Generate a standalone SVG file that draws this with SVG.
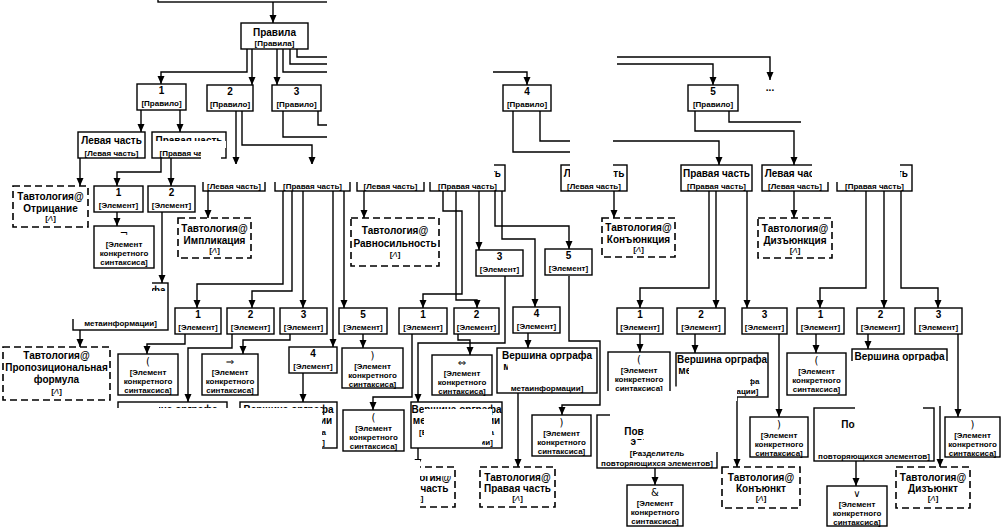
<svg xmlns="http://www.w3.org/2000/svg" width="1006" height="528" viewBox="0 0 1006 528">
<style>
.b{fill:#fff;stroke:#000;stroke-width:1.4}
.d{fill:#fff;stroke:#000;stroke-width:1.6;stroke-dasharray:7 4}
text{font-family:"Liberation Sans",Arial,"DejaVu Sans",sans-serif;text-anchor:middle;fill:#000;font-weight:bold}
.l{font-size:10px}
.s{font-size:8px}
.y{font-size:10px;font-weight:normal;font-family:"DejaVu Sans","Liberation Sans",sans-serif}
.c{fill:none;stroke:#000;stroke-width:1.4;marker-end:url(#a)}
.m{fill:#fff}
</style>
<defs><marker id="a" markerUnits="userSpaceOnUse" markerWidth="8" markerHeight="8" refX="8" refY="3.5" orient="auto"><path d="M0,0L8,3.5L0,7z"/></marker></defs>
<rect width="1006" height="528" fill="#fff"/>
<g id="connectors">
<path class="c" d="M273,2V23"/>
<path class="c" d="M247,49V72H161V84"/>
<path class="c" d="M252,49V85"/>
<path class="c" d="M277,49V85"/>
<path class="c" d="M283,49V72H527V85"/>
<path class="c" d="M290,49V64H713V85"/>
<path class="c" d="M297,49V57H770V80"/>
<path class="c" d="M141,110V132"/>
<path class="c" d="M180,110V132"/>
<path class="c" d="M80,158V186"/>
<path class="c" d="M161,158V172H117V186"/>
<path class="c" d="M171,158V186"/>
<path class="c" d="M117,212V226"/>
<path class="c" d="M162,212V283"/>
<path class="c" d="M80,330V347"/>
<path class="c" d="M236,111V165"/>
<path class="c" d="M242,111V145H312V165"/>
<path class="c" d="M208,191V218"/>
<path class="c" d="M283,191V284H197V308"/>
<path class="c" d="M292,191V291H252V308"/>
<path class="c" d="M303,191V308"/>
<path class="c" d="M333,191V347"/>
<path class="c" d="M344,191V308"/>
<path class="c" d="M185,334V344H147V354"/>
<path class="c" d="M232,334V348H188V402"/>
<path class="c" d="M290,334V340H243V354"/>
<path class="c" d="M303,373V402"/>
<path class="c" d="M363,334V348"/>
<path class="c" d="M283,111V137H390V165"/>
<path class="c" d="M318,111V125H467V165"/>
<path class="c" d="M364,191V218"/>
<path class="c" d="M443,191V211H462V294H423V308"/>
<path class="c" d="M456,191V300H477V308"/>
<path class="c" d="M479,191V250"/>
<path class="c" d="M495,191V226H569V249"/>
<path class="c" d="M502,191V239H535V307"/>
<path class="c" d="M412,334V397H373V410"/>
<path class="c" d="M458,334V340H470V355"/>
<path class="c" d="M505,276V343H418V402"/>
<path class="c" d="M528,333V348"/>
<path class="c" d="M569,276V341H600V405H562V415"/>
<path class="c" d="M418,448V467"/>
<path class="c" d="M518,393V467"/>
<path class="c" d="M513,111V152H590V165"/>
<path class="c" d="M540,111V141H719V165"/>
<path class="c" d="M614,191V218"/>
<path class="c" d="M709,191V288H640V308"/>
<path class="c" d="M716,191V308"/>
<path class="c" d="M747,191V308"/>
<path class="c" d="M640,334V352"/>
<path class="c" d="M695,334V353"/>
<path class="c" d="M779,334V417"/>
<path class="c" d="M737,397V467"/>
<path class="c" d="M655,468V485"/>
<path class="c" d="M695,111V131H794V165"/>
<path class="c" d="M729,111V122H875V165"/>
<path class="c" d="M794,191V218"/>
<path class="c" d="M866,191V288H820V308"/>
<path class="c" d="M884,191V308"/>
<path class="c" d="M901,191V288H938V308"/>
<path class="c" d="M816,334V353"/>
<path class="c" d="M868,334V349"/>
<path class="c" d="M958,334V417"/>
<path class="c" d="M940,396V467"/>
<path class="c" d="M856,461V486"/>
</g>
<g id="n-top"><rect class="b" x="158" y="-30" width="182" height="32"/></g>
<g id="n-pravila"><rect class="b" x="241" y="23" width="67" height="26"/><text class="l" x="274.5" y="36">Правила</text><text class="s" x="274.5" y="46">[Правила]</text></g>
<g id="n-r1"><rect class="b" x="137" y="84" width="49" height="26"/><text class="l" x="161.5" y="94">1</text><text class="s" x="161.5" y="106">[Правило]</text></g>
<g id="n-r2"><rect class="b" x="207" y="85" width="46" height="26"/><text class="l" x="230" y="95">2</text><text class="s" x="230" y="107">[Правило]</text></g>
<g id="n-r3"><rect class="b" x="272" y="85" width="49" height="26"/><text class="l" x="296.5" y="95">3</text><text class="s" x="296.5" y="107">[Правило]</text></g>
<g id="n-r4"><rect class="b" x="503" y="85" width="48" height="26"/><text class="l" x="527" y="95">4</text><text class="s" x="527" y="107">[Правило]</text></g>
<g id="n-r5"><rect class="b" x="688" y="85" width="50" height="26"/><text class="l" x="713" y="95">5</text><text class="s" x="713" y="107">[Правило]</text></g>
<g id="n-more"><text class="l" x="770" y="91">...</text></g>
<g id="n-l1"><rect class="b" x="78" y="132" width="67" height="26"/><text class="l" x="111.5" y="143.5">Левая часть</text><text class="s" x="111.5" y="155.5">[Левая часть]</text></g>
<g id="n-p1"><rect class="b" x="152" y="132" width="74" height="26"/><text class="l" x="189" y="143.5">Правая часть</text><text class="s" x="189" y="155.5">[Правая часть]</text></g>
<g id="n-l2"><rect class="b" x="203" y="165" width="62" height="26"/><text class="l" x="234" y="176.5">Левая часть</text><text class="s" x="234" y="188.5">[Левая часть]</text></g>
<g id="n-p2"><rect class="b" x="275" y="165" width="75" height="26"/><text class="l" x="312.5" y="176.5">Правая часть</text><text class="s" x="312.5" y="188.5">[Правая часть]</text></g>
<g id="n-l3"><rect class="b" x="357" y="165" width="67" height="26"/><text class="l" x="390.5" y="176.5">Левая часть</text><text class="s" x="390.5" y="188.5">[Левая часть]</text></g>
<g id="n-p3"><rect class="b" x="430" y="165" width="75" height="26"/><text class="l" x="467.5" y="176.5">Правая часть</text><text class="s" x="467.5" y="188.5">[Правая часть]</text></g>
<g id="n-l4"><rect class="b" x="561" y="165" width="66" height="26"/><text class="l" x="594" y="176.5">Левая часть</text><text class="s" x="594" y="188.5">[Левая часть]</text></g>
<g id="n-p4"><rect class="b" x="681" y="165" width="71" height="26"/><text class="l" x="716.5" y="176.5">Правая часть</text><text class="s" x="716.5" y="188.5">[Правая часть]</text></g>
<g id="n-l5"><rect class="b" x="762" y="165" width="66" height="26"/><text class="l" x="795" y="176.5">Левая часть</text><text class="s" x="795" y="188.5">[Левая часть]</text></g>
<g id="n-p5"><rect class="b" x="837" y="165" width="75" height="26"/><text class="l" x="874.5" y="176.5">Правая часть</text><text class="s" x="874.5" y="188.5">[Правая часть]</text></g>
<g id="n-t-otr"><rect class="d" x="13" y="186" width="75" height="41"/><text class="l" x="50.5" y="200">Тавтология@</text><text class="l" x="50.5" y="212">Отрицание</text><text class="s" x="50.5" y="221">[<tspan font-style="italic" font-weight="normal">Λ</tspan>]</text></g>
<g id="n-t-imp"><rect class="d" x="178" y="218" width="73" height="40"/><text class="l" x="214.5" y="232">Тавтология@</text><text class="l" x="214.5" y="243.5">Импликация</text><text class="s" x="214.5" y="253">[<tspan font-style="italic" font-weight="normal">Λ</tspan>]</text></g>
<g id="n-t-ravn"><rect class="d" x="351" y="218" width="88" height="48"/><text class="l" x="395" y="234">Тавтология@</text><text class="l" x="395" y="247">Равносильность</text><text class="s" x="395" y="257">[<tspan font-style="italic" font-weight="normal">Λ</tspan>]</text></g>
<g id="n-t-konj"><rect class="d" x="602" y="218" width="73" height="39"/><text class="l" x="638.5" y="231">Тавтология@</text><text class="l" x="638.5" y="242.5">Конъюнкция</text><text class="s" x="638.5" y="252">[<tspan font-style="italic" font-weight="normal">Λ</tspan>]</text></g>
<g id="n-t-dizj"><rect class="d" x="758" y="218" width="74" height="40"/><text class="l" x="795" y="232">Тавтология@</text><text class="l" x="795" y="243.5">Дизъюнкция</text><text class="s" x="795" y="253">[<tspan font-style="italic" font-weight="normal">Λ</tspan>]</text></g>
<g id="n-t-prop"><rect class="d" x="3" y="347" width="107" height="53"/><text class="l" x="56.5" y="359">Тавтология@</text><text class="l" x="56.5" y="371">Пропозициональная</text><text class="l" x="56.5" y="383">формула</text><text class="s" x="56.5" y="394">[<tspan font-style="italic" font-weight="normal">Λ</tspan>]</text></g>
<g id="n-t-lev"><rect class="d" x="381" y="467" width="74" height="40"/><text class="l" x="418" y="481">Тавтология@</text><text class="l" x="418" y="492">Левая часть</text><text class="s" x="418" y="501">[<tspan font-style="italic" font-weight="normal">Λ</tspan>]</text></g>
<g id="n-t-prav"><rect class="d" x="480" y="467" width="75" height="40"/><text class="l" x="517.5" y="481">Тавтология@</text><text class="l" x="517.5" y="492">Правая часть</text><text class="s" x="517.5" y="501">[<tspan font-style="italic" font-weight="normal">Λ</tspan>]</text></g>
<g id="n-t-konjt"><rect class="d" x="722" y="467" width="78" height="41"/><text class="l" x="761" y="481">Тавтология@</text><text class="l" x="761" y="492">Конъюнкт</text><text class="s" x="761" y="501">[<tspan font-style="italic" font-weight="normal">Λ</tspan>]</text></g>
<g id="n-t-dizjt"><rect class="d" x="896" y="467" width="74" height="41"/><text class="l" x="933" y="481">Тавтология@</text><text class="l" x="933" y="492">Дизъюнкт</text><text class="s" x="933" y="501">[<tspan font-style="italic" font-weight="normal">Λ</tspan>]</text></g>
<g id="n-e1a"><rect class="b" x="94" y="186" width="49" height="26"/><text class="l" x="118.5" y="195.5">1</text><text class="s" x="118.5" y="208">[Элемент]</text></g>
<g id="n-e1b"><rect class="b" x="148" y="186" width="47" height="26"/><text class="l" x="171.5" y="195.5">2</text><text class="s" x="171.5" y="208">[Элемент]</text></g>
<g id="n-e21"><rect class="b" x="175" y="308" width="46" height="26"/><text class="l" x="198" y="317.5">1</text><text class="s" x="198" y="330">[Элемент]</text></g>
<g id="n-e22"><rect class="b" x="227" y="308" width="47" height="26"/><text class="l" x="250.5" y="317.5">2</text><text class="s" x="250.5" y="330">[Элемент]</text></g>
<g id="n-e23"><rect class="b" x="280" y="308" width="47" height="26"/><text class="l" x="303.5" y="317.5">3</text><text class="s" x="303.5" y="330">[Элемент]</text></g>
<g id="n-e24"><rect class="b" x="289" y="347" width="48" height="26"/><text class="l" x="313" y="356.5">4</text><text class="s" x="313" y="369">[Элемент]</text></g>
<g id="n-e25"><rect class="b" x="339" y="308" width="48" height="26"/><text class="l" x="363" y="317.5">5</text><text class="s" x="363" y="330">[Элемент]</text></g>
<g id="n-e31"><rect class="b" x="399" y="308" width="48" height="26"/><text class="l" x="423" y="317.5">1</text><text class="s" x="423" y="330">[Элемент]</text></g>
<g id="n-e32"><rect class="b" x="454" y="308" width="45" height="26"/><text class="l" x="476.5" y="317.5">2</text><text class="s" x="476.5" y="330">[Элемент]</text></g>
<g id="n-e33"><rect class="b" x="476" y="250" width="47" height="26"/><text class="l" x="499.5" y="259.5">3</text><text class="s" x="499.5" y="272">[Элемент]</text></g>
<g id="n-e34"><rect class="b" x="513" y="307" width="47" height="26"/><text class="l" x="536.5" y="316.5">4</text><text class="s" x="536.5" y="329">[Элемент]</text></g>
<g id="n-e35"><rect class="b" x="545" y="249" width="47" height="26"/><text class="l" x="568.5" y="258.5">5</text><text class="s" x="568.5" y="271">[Элемент]</text></g>
<g id="n-e41"><rect class="b" x="617" y="308" width="46" height="26"/><text class="l" x="640" y="317.5">1</text><text class="s" x="640" y="330">[Элемент]</text></g>
<g id="n-e42"><rect class="b" x="677" y="308" width="48" height="26"/><text class="l" x="701" y="317.5">2</text><text class="s" x="701" y="330">[Элемент]</text></g>
<g id="n-e43"><rect class="b" x="742" y="308" width="45" height="26"/><text class="l" x="764.5" y="317.5">3</text><text class="s" x="764.5" y="330">[Элемент]</text></g>
<g id="n-e51"><rect class="b" x="797" y="308" width="47" height="26"/><text class="l" x="820.5" y="317.5">1</text><text class="s" x="820.5" y="330">[Элемент]</text></g>
<g id="n-e52"><rect class="b" x="857" y="308" width="47" height="26"/><text class="l" x="880.5" y="317.5">2</text><text class="s" x="880.5" y="330">[Элемент]</text></g>
<g id="n-e53"><rect class="b" x="915" y="308" width="47" height="26"/><text class="l" x="938.5" y="317.5">3</text><text class="s" x="938.5" y="330">[Элемент]</text></g>
<g id="n-k1"><rect class="b" x="94" y="226" width="60" height="42"/><text class="y" x="124" y="237">¬</text><text class="s" x="124" y="247">[Элемент</text><text class="s" x="124" y="256">конкретного</text><text class="s" x="124" y="265">синтаксиса]</text></g>
<g id="n-k2a"><rect class="b" x="118" y="354" width="60" height="41"/><text class="y" x="148" y="365">(</text><text class="s" x="148" y="375">[Элемент</text><text class="s" x="148" y="384">конкретного</text><text class="s" x="148" y="393">синтаксиса]</text></g>
<g id="n-k2b"><rect class="b" x="202" y="354" width="56" height="41"/><text class="y" x="230" y="365">⇒</text><text class="s" x="230" y="375">[Элемент</text><text class="s" x="230" y="384">конкретного</text><text class="s" x="230" y="393">синтаксиса]</text></g>
<g id="n-k2c"><rect class="b" x="342" y="348" width="61" height="40"/><text class="y" x="372.5" y="359">)</text><text class="s" x="372.5" y="369">[Элемент</text><text class="s" x="372.5" y="378">конкретного</text><text class="s" x="372.5" y="387">синтаксиса]</text></g>
<g id="n-k3a"><rect class="b" x="343" y="410" width="61" height="41"/><text class="y" x="373.5" y="421">(</text><text class="s" x="373.5" y="431">[Элемент</text><text class="s" x="373.5" y="440">конкретного</text><text class="s" x="373.5" y="449">синтаксиса]</text></g>
<g id="n-k3b"><rect class="b" x="432" y="355" width="60" height="40"/><text class="y" x="462" y="366">⇔</text><text class="s" x="462" y="376">[Элемент</text><text class="s" x="462" y="385">конкретного</text><text class="s" x="462" y="394">синтаксиса]</text></g>
<g id="n-k3c"><rect class="b" x="532" y="415" width="59" height="41"/><text class="y" x="561.5" y="426">)</text><text class="s" x="561.5" y="436">[Элемент</text><text class="s" x="561.5" y="445">конкретного</text><text class="s" x="561.5" y="454">синтаксиса]</text></g>
<g id="n-k4a"><rect class="b" x="608" y="352" width="62" height="40"/><text class="y" x="639" y="363">(</text><text class="s" x="639" y="373">[Элемент</text><text class="s" x="639" y="382">конкретного</text><text class="s" x="639" y="391">синтаксиса]</text></g>
<g id="n-k4c"><rect class="b" x="750" y="417" width="58" height="40"/><text class="y" x="779" y="428">)</text><text class="s" x="779" y="438">[Элемент</text><text class="s" x="779" y="447">конкретного</text><text class="s" x="779" y="456">синтаксиса]</text></g>
<g id="n-k4d"><rect class="b" x="627" y="485" width="56" height="41"/><text class="y" x="655" y="496">&amp;</text><text class="s" x="655" y="506">[Элемент</text><text class="s" x="655" y="515">конкретного</text><text class="s" x="655" y="524">синтаксиса]</text></g>
<g id="n-k5a"><rect class="b" x="787" y="353" width="59" height="42"/><text class="y" x="816.5" y="364">(</text><text class="s" x="816.5" y="374">[Элемент</text><text class="s" x="816.5" y="383">конкретного</text><text class="s" x="816.5" y="392">синтаксиса]</text></g>
<g id="n-k5c"><rect class="b" x="945" y="417" width="55" height="40"/><text class="y" x="972.5" y="428">)</text><text class="s" x="972.5" y="438">[Элемент</text><text class="s" x="972.5" y="447">конкретного</text><text class="s" x="972.5" y="456">синтаксиса]</text></g>
<g id="n-k5d"><rect class="b" x="827" y="486" width="60" height="40"/><text class="y" x="857" y="497">∨</text><text class="s" x="857" y="507">[Элемент</text><text class="s" x="857" y="516">конкретного</text><text class="s" x="857" y="525">синтаксиса]</text></g>
<g id="n-v1"><rect class="b" x="73" y="283" width="95" height="47"/><text class="l" x="120.5" y="294">Вершина орграфа</text><text class="l" x="120.5" y="305">метаинформации</text><text class="s" x="120.5" y="316">[Вершина орграфа</text><text class="s" x="120.5" y="326">метаинформации]</text></g>
<g id="n-v2a"><rect class="b" x="118" y="402" width="109" height="46"/><text class="l" x="172.5" y="413">Вершина орграфа</text><text class="l" x="172.5" y="424">метаинформации</text><text class="s" x="172.5" y="435">[Вершина орграфа</text><text class="s" x="172.5" y="445">метаинформации]</text></g>
<g id="n-v2b"><rect class="b" x="240" y="402" width="97" height="46"/><text class="l" x="288.5" y="413">Вершина орграфа</text><text class="l" x="288.5" y="424">метаинформации</text><text class="s" x="288.5" y="435">[Вершина орграфа</text><text class="s" x="288.5" y="445">метаинформации]</text></g>
<g id="n-v3a"><rect class="b" x="411" y="402" width="91" height="46"/><text class="l" x="456.5" y="413">Вершина орграфа</text><text class="l" x="456.5" y="424">метаинформации</text><text class="s" x="456.5" y="435">[Вершина орграфа</text><text class="s" x="456.5" y="445">метаинформации]</text></g>
<g id="n-v3b"><rect class="b" x="497" y="348" width="100" height="45"/><text class="l" x="547" y="359">Вершина орграфа</text><text class="l" x="547" y="370">метаинформации</text><text class="s" x="547" y="381">[Вершина орграфа</text><text class="s" x="547" y="391">метаинформации]</text></g>
<g id="n-v4"><rect class="b" x="676" y="353" width="92" height="44"/><text class="l" x="722" y="363">Вершина орграфа</text><text class="l" x="722" y="373.5">метаинформации</text><text class="s" x="722" y="384">[Вершина орграфа</text><text class="s" x="722" y="394">метаинформации]</text></g>
<g id="n-v5"><rect class="b" x="852" y="349" width="95" height="47"/><text class="l" x="899.5" y="360">Вершина орграфа</text><text class="l" x="899.5" y="371">метаинформации</text><text class="s" x="899.5" y="382">[Вершина орграфа</text><text class="s" x="899.5" y="392">метаинформации]</text></g>
<g id="n-rep4"><rect class="b" x="597" y="415" width="120" height="53"/><text class="l" x="657" y="435">Повторитель</text><text class="l" x="657" y="445">элементов</text><text class="s" x="657" y="456">[Разделитель</text><text class="s" x="657" y="466">повторяющихся элементов]</text></g>
<g id="n-rep5"><rect class="b" x="814" y="408" width="120" height="53"/><text class="l" x="874" y="428">Повторитель</text><text class="l" x="874" y="438">элементов</text><text class="s" x="874" y="449">[Разделитель</text><text class="s" x="874" y="459">повторяющихся элементов]</text></g>
<g id="occlusions">
<rect class="m" x="327" y="0" width="166" height="164"/>
<rect class="m" x="327" y="0" width="290" height="68"/>
<rect class="m" x="200" y="164" width="294" height="18"/>
<rect class="m" x="570" y="113" width="43" height="70"/>
<rect class="m" x="801" y="108" width="205" height="56"/>
<rect class="m" x="812" y="164" width="88" height="18"/>
<rect class="m" x="153" y="141" width="73" height="7"/>
<rect class="m" x="201" y="146" width="20" height="16"/>
<rect class="m" x="60" y="270" width="92" height="49"/>
<rect class="m" x="60" y="291" width="107" height="28"/>
<rect class="m" x="112" y="408" width="210" height="120"/>
<rect class="m" x="119" y="403" width="40" height="6"/>
<rect class="m" x="424" y="409" width="68" height="31"/>
<rect class="m" x="412" y="440" width="70" height="7"/>
<rect class="m" x="370" y="460" width="50" height="55"/>
<rect class="m" x="420" y="468" width="34" height="8"/>
<rect class="m" x="508" y="361" width="86" height="23"/>
<rect class="m" x="605" y="391" width="130" height="23"/>
<rect class="m" x="689" y="365" width="78" height="11"/>
<rect class="m" x="677" y="376" width="73" height="10.5"/>
<rect class="m" x="674" y="386.5" width="63" height="14.5"/>
<rect class="m" x="644" y="410" width="76" height="30"/>
<rect class="m" x="610" y="410" width="34" height="17"/>
<rect class="m" x="636" y="440" width="84" height="12"/>
<rect class="m" x="850" y="361" width="100" height="45"/>
<rect class="m" x="855" y="405" width="68" height="50"/>
<rect class="m" x="815" y="429" width="40" height="26"/>
</g>
</svg>
